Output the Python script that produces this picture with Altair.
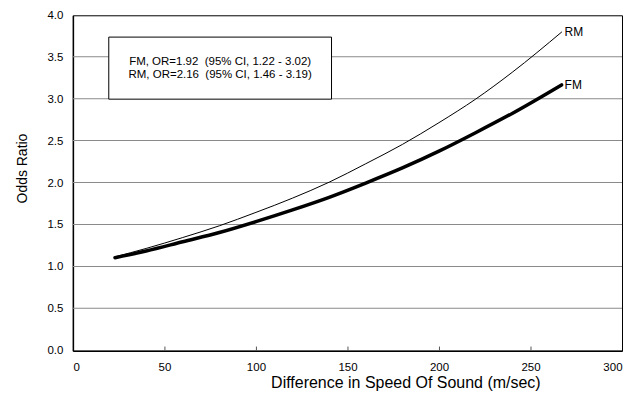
import altair as alt
import pandas as pd

# Values
x_vals = [23, 40, 60, 80, 100, 120, 140, 160, 180, 200, 220, 240, 267]
rm_vals = [1.12, 1.22, 1.35, 1.49, 1.65, 1.82, 2.01, 2.23, 2.46, 2.72, 3.00, 3.32, 3.80]
fm_vals = [1.11, 1.19, 1.30, 1.41, 1.54, 1.68, 1.83, 2.00, 2.18, 2.38, 2.60, 2.83, 3.17]
series_names = ["RM", "FM"]

x_ticks = [0, 50, 100, 150, 200, 250, 300]
y_ticks = [0.0, 0.5, 1.0, 1.5, 2.0, 2.5, 3.0, 3.5, 4.0]
grid_vals = [0.5, 1.0, 1.5, 2.0, 2.5, 3.0, 3.5]
inner_ticks = [50, 100, 150, 200, 250]

legend_lines = ["FM, OR=1.92\u00a0 (95% CI, 1.22 - 3.02)",
                "RM, OR=2.16\u00a0 (95% CI, 1.46 - 3.19)"]
legend_line_y = [3.447, 3.293]
legend_box = {"x": 19.6, "x2": 141.3, "y": 3.00, "y2": 3.74}
legend_text_x = (legend_box["x"] + legend_box["x2"]) / 2

FONT = "Liberation Sans"
X_TITLE = "Difference in Speed Of Sound (m/sec)"
Y_TITLE = "Odds Ratio"

rows = []
for xv, r, f in zip(x_vals, rm_vals, fm_vals):
    rows.append({"x": xv, "y": r, "series": "RM"})
    rows.append({"x": xv, "y": f, "series": "FM"})
lines_df = pd.DataFrame(rows)
ends_df = pd.DataFrame([
    {"x": x_vals[-1], "y": rm_vals[-1], "label": "RM"},
    {"x": x_vals[-1], "y": fm_vals[-1], "label": "FM"},
])
legend_df = pd.DataFrame({"x": [legend_text_x] * 2, "y": legend_line_y, "text": legend_lines})
box_df = pd.DataFrame([legend_box])
ticks_df = pd.DataFrame({"tx": inner_ticks, "ty": [0.0] * len(inner_ticks), "ty2": [0.05] * len(inner_ticks)})

# gridlines as thin bands (1 px = 1/84 of a unit); those meeting the legend box stop at its edges
GRID_T = 1.0 / 84.0
grid_rows = []
for g in grid_vals:
    if legend_box["y"] <= g <= legend_box["y2"]:
        grid_rows.append({"gy": g, "gy2": g + GRID_T, "gx": 0, "gx2": legend_box["x"]})
        grid_rows.append({"gy": g, "gy2": g + GRID_T, "gx": legend_box["x2"], "gx2": 300})
    else:
        grid_rows.append({"gy": g, "gy2": g + GRID_T, "gx": 0, "gx2": 300})
grid_df = pd.DataFrame(grid_rows)

x_scale = alt.Scale(domain=[0, 300], nice=False, zero=False)
y_scale = alt.Scale(domain=[0, 4], nice=False, zero=False)

x_axis = alt.Axis(values=x_ticks, format="d", grid=False, ticks=False, labelPadding=11,
                  labelFontSize=11.5, labelColor="black", labelFont=FONT,
                  domainColor="black", domainWidth=1.5,
                  titleFontSize=16,
                  titleFontWeight="normal", titleColor="black", titleFont=FONT,
                  titleX=333, titleY=32, titleAlign="center", titleBaseline="middle")
y_axis = alt.Axis(values=y_ticks, format=".1f", grid=False,
                  ticks=False, labelPadding=10, labelFontSize=11.5, labelColor="black",
                  labelFont=FONT, domainColor="black", domainWidth=1.5,
                  titleFontSize=14, titleFontWeight="normal",
                  titleColor="black", titleFont=FONT, titleAngle=270,
                  titleX=-50.5, titleY=153, titleAlign="center", titleBaseline="middle")


def xq(field):
    return alt.X(field, type="quantitative", scale=x_scale, axis=None)


def yq(field):
    return alt.Y(field, type="quantitative", scale=y_scale, axis=None)


grid = alt.Chart(grid_df).mark_rect(fill="#8a8a8a", stroke=None if False else "#8a8a8a",
                                    strokeWidth=0).encode(
    x=xq("gx"), x2=alt.X2("gx2:Q"), y=yq("gy"), y2=alt.Y2("gy2:Q"))

box = alt.Chart(box_df).mark_rect(fill="white", stroke="black", strokeWidth=1).encode(
    x=xq("x"), x2="x2:Q", y=yq("y"), y2="y2:Q")

legend_text = alt.Chart(legend_df).mark_text(align="center", baseline="middle", fontSize=11.5,
                                             font=FONT, color="black").encode(
    x=xq("x"), y=yq("y"), text="text:N")

inner = alt.Chart(ticks_df).mark_rule(color="#555555", strokeWidth=1, xOffset=0.5).encode(
    x=xq("tx"), y=yq("ty"), y2=alt.Y2("ty2:Q"))

# the only layer that carries the axes
lines = alt.Chart(lines_df).mark_line(color="black", interpolate="monotone",
                                       strokeCap="round", strokeJoin="round").encode(
    x=alt.X("x:Q", scale=x_scale, axis=x_axis, title=X_TITLE),
    y=alt.Y("y:Q", scale=y_scale, axis=y_axis, title=Y_TITLE),
    detail="series:N",
    strokeWidth=alt.StrokeWidth("series:N", scale=alt.Scale(domain=series_names, range=[1, 3.5]),
                                legend=None))

end_labels = alt.Chart(ends_df).mark_text(align="left", baseline="middle", dx=3, fontSize=12,
                                          font=FONT, color="black").encode(
    x=xq("x"), y=yq("y"), text="label:N")

chart = alt.layer(grid, box, legend_text, inner, lines, end_labels).resolve_axis(
    x="independent", y="independent"
).properties(
    width=550, height=336,
    autosize=alt.AutoSizeParams(type="none"),
    padding={"left": 65, "top": 7, "right": 8, "bottom": 41},
    background="white",
).configure(font=FONT).configure_view(stroke="black", strokeWidth=1)

chart.save("out.html", embed_options={"renderer": "svg", "actions": False})
